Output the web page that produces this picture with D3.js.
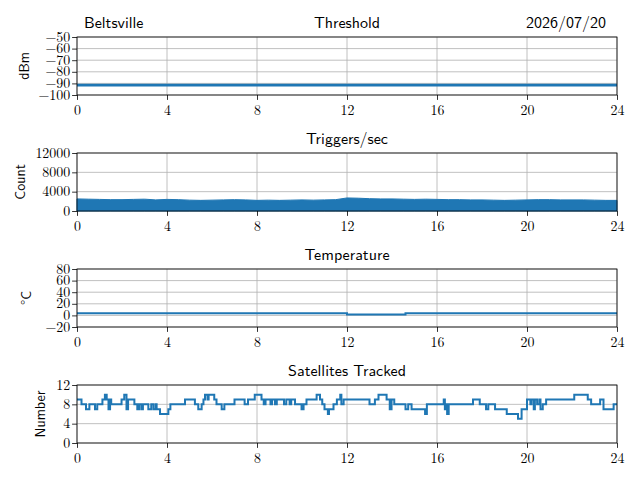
<!DOCTYPE html>
<html><head><meta charset="utf-8">
<script src="https://cdn.jsdelivr.net/npm/d3@7"></script>
<style>body{margin:0;background:#fff}svg{display:block}</style>
</head><body><svg id="c" width="640" height="480"></svg>
<script>
const hourTicks = [0,4,8,12,16,20,24];
const thrTimes = [0,24];
const thrValues = [-91.5,-91.5];
const trigTimes = [0,0.5,1,1.5,2,2.5,3,3.5,4,4.5,5,5.5,6,6.5,7,7.5,8,8.5,9,9.5,10,10.5,11,11.5,12,12.5,13,13.5,14,14.5,15,15.5,16,16.5,17,17.5,18,18.5,19,19.5,20,20.5,21,21.5,22,22.5,23,23.5,24];
const trigValues = [2500,2450,2400,2350,2350,2400,2450,2300,2400,2350,2250,2200,2250,2300,2350,2300,2200,2250,2200,2250,2300,2250,2300,2350,2700,2650,2550,2500,2500,2450,2400,2450,2400,2350,2350,2300,2300,2250,2200,2250,2300,2350,2350,2300,2300,2300,2250,2200,2200];
const tempTimes = [0,12,14.6,24];
const tempValues = [3.5,1.5,3.5,3.5];
const satTimes = [0,0.2,0.4,0.55,0.8,0.9,1.13,1.24,1.32,1.4,1.47,1.52,1.98,2.1,2.2,2.27,2.55,2.68,2.76,2.86,2.93,3.17,3.3,3.4,3.5,3.54,3.69,4.06,4.15,4.8,5.24,5.39,5.54,5.62,5.69,5.8,5.85,6.1,6.2,6.43,6.55,7.0,7.45,7.6,7.9,8.2,8.3,8.38,8.6,8.67,8.8,8.88,9.2,9.3,9.45,9.52,9.69,9.98,10.07,10.2,10.65,10.8,10.9,11.0,11.15,11.2,11.4,11.55,11.7,11.75,11.85,13.0,13.24,13.4,13.76,13.9,13.98,14.1,14.6,14.72,14.87,15.47,15.55,16.3,16.35,16.42,16.45,16.52,17.6,17.9,18.18,18.28,18.58,19.1,19.6,19.76,20.0,20.15,20.2,20.3,20.35,20.45,20.55,20.6,20.7,20.85,22.1,22.7,22.85,23.25,23.4,23.85,24];
const satValues = [9,8,7,8,7,8,9,10,9,7,9,8,9,10,7,9,8,7,8,7,8,7,8,7,8,7,6,7,8,9,8,7,8,9,10,9,10,9,8,7,8,9,8,9,10,9,8,9,8,9,8,9,8,9,8,9,8,7,8,9,10,9,8,7,6,7,8,9,10,8,9,8,9,10,9,7,9,8,7,8,7,6,8,9,7,8,6,8,9,8,7,8,7,6,5,7,9,8,9,7,9,8,9,7,8,9,10,9,8,9,7,8,8];

const thrTicks = [-100,-90,-80,-70,-60,-50];
const trigTicks = [0,4000,8000,12000];
const tempTicks = [-20,0,20,40,60,80];
const satTicks = [0,4,8,12];

const svg = d3.select('#c');
const L = 77, R = 617, H = 58;
const tops = [37,153,269,385];
const blue = '#1f77b4';
const serif = "'Latin Modern Roman','CMU Serif','Liberation Serif','DejaVu Serif',serif";
const sans = "'Latin Modern Sans','CMU Sans Serif','Lato','DejaVu Sans',sans-serif";
const x = d3.scaleLinear().domain([0,24]).range([L,R]);
const fmt = d => (d<0?'\u2212':'') + Math.abs(d);

function panel(i, domain, ticks, title, ylabel, ylabelX) {
  const top = tops[i], bot = top + H;
  const y = d3.scaleLinear().domain(domain).range([bot, top]);
  const g = svg.append('g');
  g.append('g').selectAll('line').data(hourTicks).join('line')
    .attr('x1', d=>x(d)).attr('x2', d=>x(d)).attr('y1', top).attr('y2', bot)
    .attr('stroke', '#b0b0b0').attr('stroke-width', 0.8);
  g.append('g').selectAll('line').data(ticks).join('line')
    .attr('x1', L).attr('x2', R).attr('y1', d=>y(d)).attr('y2', d=>y(d))
    .attr('stroke', '#b0b0b0').attr('stroke-width', 0.8);
  const plot = g.append('g');
  const xa = g.append('g').attr('transform', `translate(0,${bot})`)
    .call(d3.axisBottom(x).tickValues(hourTicks).tickFormat(d=>d).tickSize(4.9).tickPadding(3));
  const ya = g.append('g').attr('transform', `translate(${L},0)`)
    .call(d3.axisLeft(y).tickValues(ticks).tickFormat(fmt).tickSize(4.9).tickPadding(2));
  [xa, ya].forEach(a => {
    a.select('.domain').remove();
    a.selectAll('line').attr('stroke','#000').attr('stroke-width',0.8);
    a.selectAll('text').attr('font-family', serif).attr('font-size', 13.9).attr('fill','#000');
  });
  xa.selectAll('text').attr('dy', '0.85em');
  ya.selectAll('text').attr('dy', '0.3em');
  g.append('rect').attr('x', L).attr('y', top).attr('width', R-L).attr('height', H)
    .attr('fill','none').attr('stroke','#000').attr('stroke-width',0.8);
  g.append('text').attr('x', (L+R)/2).attr('y', top-9).attr('text-anchor','middle')
    .attr('font-family', sans).attr('font-size', 16).text(title);
  g.append('text').attr('transform', `translate(${ylabelX},${top+H/2}) rotate(-90)`)
    .attr('text-anchor','middle').attr('font-family', sans).attr('font-size', 14).text(ylabel);
  return {plot, y};
}

{
  const {plot, y} = panel(0, [-100,-50], thrTicks, 'Threshold', 'dBm', 29);
  const line = d3.line().x((d,i)=>x(thrTimes[i])).y(d=>y(d));
  plot.append('path').attr('d', line(thrValues)).attr('fill','none').attr('stroke',blue).attr('stroke-width',2.6);
  svg.append('text').attr('x', 84).attr('y', 28).attr('font-family', sans).attr('font-size', 16).text('Beltsville');
  svg.append('text').attr('x', 606).attr('y', 28).attr('text-anchor','end').attr('font-family', sans).attr('font-size', 16).text('2026/07/20');
}
{
  const {plot, y} = panel(1, [0,12000], trigTicks, 'Triggers/sec', 'Count', 25);
  const area = d3.area().x((d,i)=>x(trigTimes[i])).y0(y(0)).y1(d=>y(d));
  plot.append('path').attr('d', area(trigValues)).attr('fill',blue).attr('stroke',blue).attr('stroke-width',1);
}
{
  const {plot, y} = panel(2, [-20,80], tempTicks, 'Temperature', '°C', 31);
  const line = d3.line().curve(d3.curveStepAfter).x((d,i)=>x(tempTimes[i])).y(d=>y(d));
  plot.append('path').attr('d', line(tempValues)).attr('fill','none').attr('stroke',blue).attr('stroke-width',2);
}
{
  const {plot, y} = panel(3, [0,12], satTicks, 'Satellites Tracked', 'Number', 45);
  const line = d3.line().curve(d3.curveStepAfter).x((d,i)=>x(satTimes[i])).y(d=>y(d));
  plot.append('path').attr('d', line(satValues)).attr('fill','none').attr('stroke',blue).attr('stroke-width',2);
}
</script></body></html>
